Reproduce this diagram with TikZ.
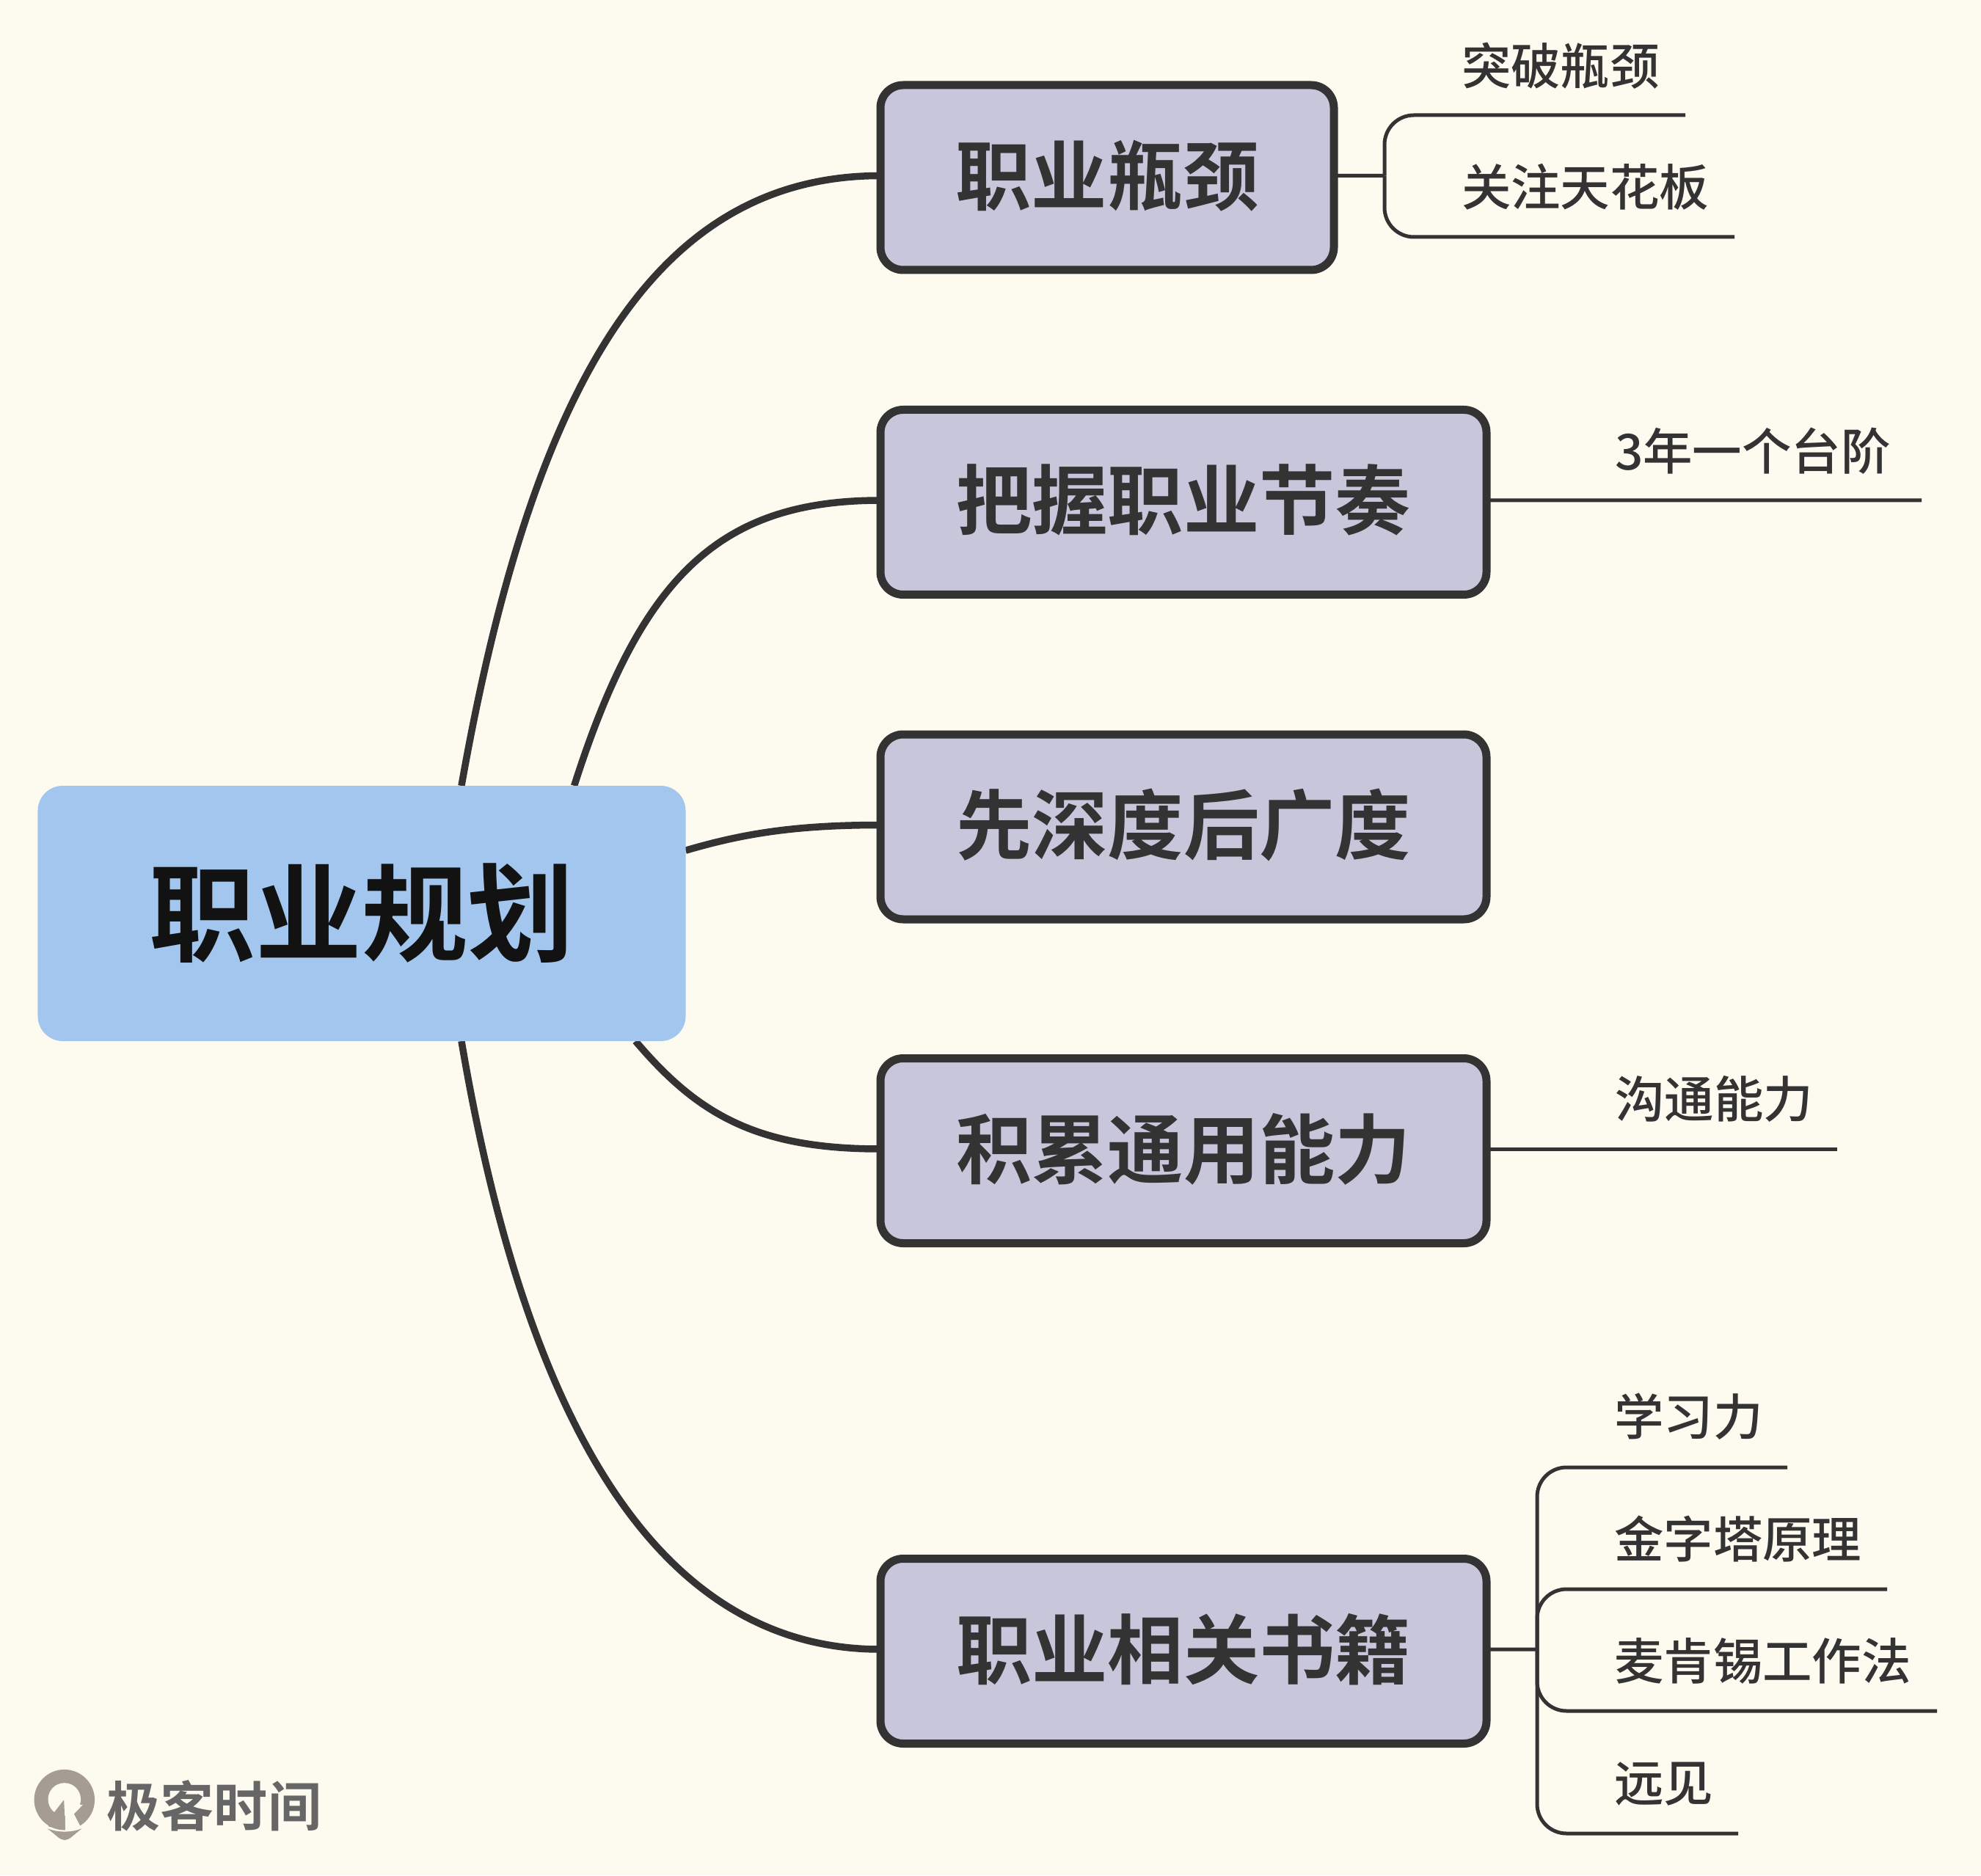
\documentclass[tikz,border=0pt]{standalone}
\usepackage{fontspec}
\usepackage{xcolor}
\setmainfont{Noto Sans CJK SC}[BoldFont={Noto Sans CJK SC Bold}]
\newfontfamily\leaffont{Noto Sans CJK SC Medium}
\definecolor{paper}{HTML}{FDFBF0}
\definecolor{ink}{HTML}{333333}
\definecolor{rootblue}{HTML}{A3C6EE}
\definecolor{subgrey}{HTML}{C7C6DA}
\definecolor{logogrey}{HTML}{A59C94}
\usetikzlibrary{calc}
\usetikzlibrary{backgrounds}
\begin{document}
\begin{tikzpicture}[root_node/.style={rectangle,rounded corners=0.34cm,fill=rootblue,text=black!93,minimum width=8.83cm,minimum height=3.48cm,outer sep=0pt,inner sep=0pt,font=\fontsize{41.2}{48}\bfseries},
	sub_node/.style={rectangle,rounded corners=0.31cm,fill=subgrey,draw=ink,line width=0.11cm,text=ink,minimum width=8.26cm,minimum height=2.52cm,outer sep=0pt,inner sep=0pt,text height=0.91cm,text depth=0.18cm,font=\fontsize{29.4}{35}\bfseries},
	leaf_node/.style={anchor=west,text=ink,inner sep=0pt,outer sep=0pt,font=\fontsize{19.2}{23}\leaffont},
	main_link/.style={draw=ink,line width=0.095cm},
	leaf_link/.style={draw=ink,line width=0.05cm,rounded corners=0.4cm}]
	
	\useasboundingbox (0,0) rectangle (27,25.56);
	
	\node[root_node] (root) at (4.93, 13.11) {职业规划};
	\node[sub_node, minimum width=6.18cm] (1) at (15.09, 23.14) {职业瓶颈};
	\node[sub_node] (2) at (16.13, 18.715) {把握职业节奏};
	\node[sub_node] (3) at (16.13, 14.29) {先深度后广度};
	\node[sub_node] (4) at (16.13, 9.875) {积累通用能力};
	\node[sub_node] (5) at (16.13, 3.055) {职业相关书籍};
	
	\node[leaf_node] (1a) at (19.92, 24.66) {突破瓶颈};
	\node[leaf_node] (1b) at (19.92, 23.01) {关注天花板};
	\node[leaf_node] (2a) at (22.01, 19.41) {3年一个台阶};
	\node[leaf_node] (4a) at (22.01, 10.58) {沟通能力};
	\node[leaf_node] (5a) at (22.00, 6.25) {学习力};
	\node[leaf_node] (5b) at (22.00, 4.59) {金字塔原理};
	\node[leaf_node] (5c) at (22.00, 2.92) {麦肯锡工作法};
	\node[leaf_node] (5d) at (22.00, 1.25) {远见};
	
	\coordinate (1t) at (18.87, 23.165);
	\coordinate (1aend) at (22.97, 23.99);
	\coordinate (1bend) at (23.64, 22.33);
	\coordinate (2aend) at (26.19, 18.74);
	\coordinate (4aend) at (25.04, 9.90);
	\coordinate (5t) at (20.95, 3.08);
	\coordinate (5aend) at (24.36, 5.56);
	\coordinate (5bend) at (25.72, 3.90);
	\coordinate (5cend) at (26.40, 2.24);
	\coordinate (5dend) at (23.69, 0.57);
	
	\begin{scope}[on background layer]
		\fill[paper] (0,0) rectangle (27,25.56);
		\draw[main_link] (root.52) .. controls +(0.99,5.61) and +(-3.00,0) .. ([yshift=0.025cm]1.west);
		\draw[main_link] (root.31) .. controls +(0.91,2.85) and +(-2.20,0) .. ([yshift=0.025cm]2.west);
		\draw[main_link] (root.11.3) .. controls +(0.75,0.22) and +(-1.20,0) .. ([yshift=0.025cm]3.west);
		\draw[main_link] (root.-25) .. controls +(0.84,-0.99) and +(-1.70,0) .. ([yshift=0.025cm]4.west);
		\draw[main_link] (root.-52) .. controls +(0.96,-5.66) and +(-2.80,0) .. ([yshift=0.025cm]5.west);
	\end{scope}
	
	\draw[leaf_link] ([yshift=0.025cm]1.east) -- (1t);
	\draw[leaf_link] (1t) |- (1aend);
	\draw[leaf_link] (1t) |- (1bend);
	\draw[leaf_link] ([yshift=0.025cm]2.east) -- (2aend);
	\draw[leaf_link] ([yshift=0.025cm]4.east) -- (4aend);
	\draw[leaf_link] ([yshift=0.025cm]5.east) -- (5t);
	\draw[leaf_link] (5t) |- (5aend);
	\draw[leaf_link] (5t) |- (5bend);
	\draw[leaf_link] (5t) |- (5cend);
	\draw[leaf_link] (5t) |- (5dend);
	
	% logo
	\begin{scope}[shift={(0,2.06)},x=0.003333cm,y=-0.003333cm]
		\fill[logogrey] (264,310) circle [radius=124];
		\fill[paper] (264,308) circle [radius=67];
		\fill[logogrey] (262,310) -- (222,362) -- (190,360) -- (200,420) -- (268,432) -- cycle;
		\fill[paper] (266,330) -- (268,440) -- (330,420) -- (303,368) -- (340,330) -- cycle;
		\fill[logogrey] (195,428) .. controls (240,445) and (290,445) .. (335,428) -- (290,465) .. controls (272,478) and (258,478) .. (240,465) -- cycle;
	\end{scope}
	\node[anchor=west,text=black!60,inner sep=0pt,font=\fontsize{20.8}{25}\bfseries] (logo) at (1.45, 0.95) {极客时间};
\end{tikzpicture}
\end{document}
